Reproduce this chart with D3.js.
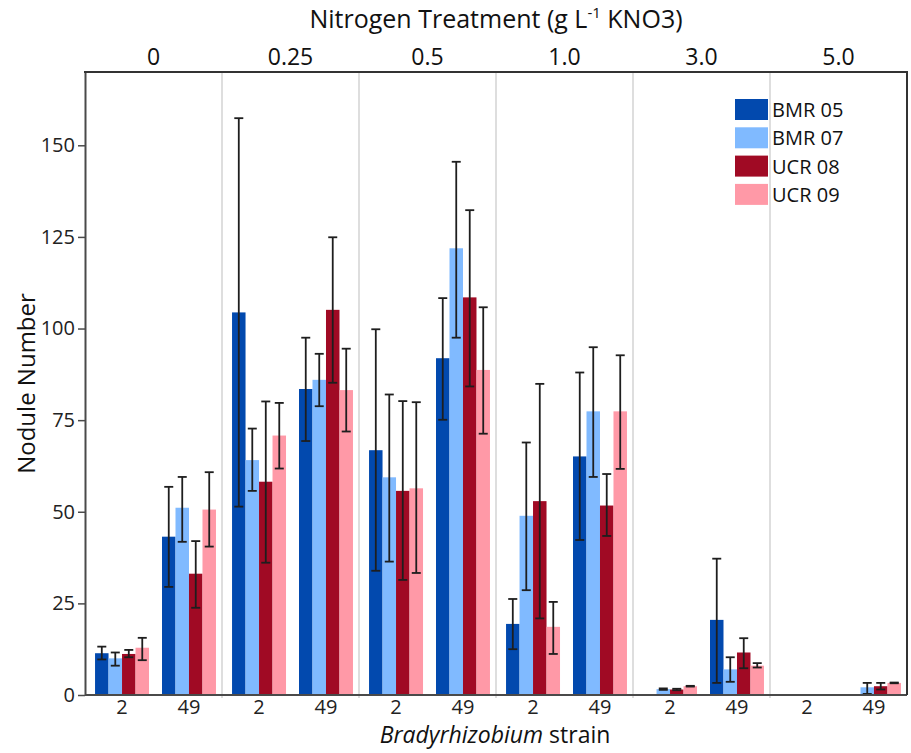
<!DOCTYPE html>
<html>
<head>
<meta charset="utf-8">
<script src="https://cdn.jsdelivr.net/npm/d3@7/dist/d3.min.js"></script>
<style>
  html, body { margin: 0; padding: 0; background: #fff; }
  svg { display: block; }
  text { font-family: "Open Sans", sans-serif; }
</style>
</head>
<body>
<svg id="chart" width="911" height="753"></svg>
<script>
// ---- data ----
const treatments = ["0", "0.25", "0.5", "1.0", "3.0", "5.0"];
const strains = ["2", "49"];
const series = ["BMR 05", "BMR 07", "UCR 08", "UCR 09"];
const yTicks = [0, 25, 50, 75, 100, 125, 150];

// values in order: (0,2),(0,49),(0.25,2),(0.25,49),(0.5,2),(0.5,49),(1.0,2),(1.0,49),(3.0,2),(3.0,49),(5.0,2),(5.0,49)
const bmr05 = [11.4, 43.2, 104.4, 83.5, 66.8, 91.9, 19.4, 65.1, 0, 20.5, 0, 0];
const bmr05Hi = [13.2, 56.8, 157.4, 97.5, 99.8, 108.3, 26.2, 88.0, 0, 37.2, 0, 0];
const bmr05Lo = [9.7, 29.5, 51.4, 69.3, 33.9, 75.1, 12.5, 42.3, 0, 3.3, 0, 0];

const bmr07 = [10.0, 51.1, 64.1, 86.0, 59.4, 121.9, 48.9, 77.4, 1.6, 7.0, 0, 2.1];
const bmr07Hi = [11.6, 59.5, 72.7, 93.1, 82.0, 145.5, 68.9, 94.9, 1.8, 10.3, 0, 3.3];
const bmr07Lo = [8.0, 41.8, 55.7, 78.8, 36.4, 97.5, 28.6, 59.5, 1.4, 3.6, 0, 0.3];

const ucr08 = [11.2, 33.1, 58.2, 105.1, 55.7, 108.5, 52.9, 51.7, 1.5, 11.6, 0, 2.4];
const ucr08Hi = [12.3, 42.0, 80.1, 124.9, 80.2, 132.3, 84.9, 60.3, 1.7, 15.5, 0, 3.3];
const ucr08Lo = [10.3, 23.8, 36.1, 85.2, 31.4, 84.2, 20.9, 43.4, 1.3, 7.3, 0, 1.5];

const ucr09 = [12.9, 50.6, 70.8, 83.2, 56.4, 88.7, 18.6, 77.4, 2.4, 8.0, 0, 3.3];
const ucr09Hi = [15.6, 60.8, 79.7, 94.5, 79.9, 105.8, 25.4, 92.7, 2.5, 8.7, 0, 3.4];
const ucr09Lo = [9.5, 40.5, 61.8, 71.9, 33.3, 71.3, 11.2, 61.7, 2.3, 7.5, 0, 3.2];

const seriesValues = [bmr05, bmr07, ucr08, ucr09];
const seriesHi = [bmr05Hi, bmr07Hi, ucr08Hi, ucr09Hi];
const seriesLo = [bmr05Lo, bmr07Lo, ucr08Lo, ucr09Lo];
const colors = ["#0249ae", "#80baff", "#a00a24", "#ff99a7"];

// ---- layout ----
const L = 85, R = 907, T = 72, B = 695;
const svg = d3.select("#chart");

const xPanel = d3.scaleBand().domain(treatments).range([L, R]).padding(0);
const xStrain = d3.scaleBand().domain(strains).range([0, xPanel.bandwidth()])
  .paddingInner(0.194).paddingOuter(0.12).align(0.625);
const xSeries = d3.scaleBand().domain(series).range([0, xStrain.bandwidth()]).padding(0);
const y = d3.scaleLinear().domain([0, 170]).range([B, T]);

// records
const records = [];
treatments.forEach((t, ti) => strains.forEach((s, si) => {
  const idx = ti * 2 + si;
  series.forEach((name, k) => {
    records.push({ t, s, name, k, v: seriesValues[k][idx], hi: seriesHi[k][idx], lo: seriesLo[k][idx] });
  });
}));

// panel separators
svg.append("g").selectAll("line").data(treatments.slice(1)).join("line")
  .attr("x1", d => xPanel(d)).attr("x2", d => xPanel(d))
  .attr("y1", T).attr("y2", B + 3)
  .attr("stroke", "#dedede").attr("stroke-width", 2);

// bars
const barX = d => xPanel(d.t) + xStrain(d.s) + xSeries(d.name);
svg.append("g").selectAll("rect").data(records.filter(d => d.v > 0)).join("rect")
  .attr("x", barX)
  .attr("y", d => y(d.v))
  .attr("width", xSeries.bandwidth())
  .attr("height", d => y(0) - y(d.v))
  .attr("fill", d => colors[d.k]);

// error bars
const eb = svg.append("g").attr("stroke", "#1e1e1e").attr("stroke-width", 1.8).attr("fill", "none");
const errs = records.filter(d => d.v > 0);
const cx = d => barX(d) + xSeries.bandwidth() / 2;
const cap = 4.5;
eb.selectAll("line.v").data(errs).join("line").attr("class", "v")
  .attr("x1", cx).attr("x2", cx).attr("y1", d => y(d.hi)).attr("y2", d => y(d.lo));
eb.selectAll("line.h").data(errs).join("line").attr("class", "h")
  .attr("x1", d => cx(d) - cap).attr("x2", d => cx(d) + cap).attr("y1", d => y(d.hi)).attr("y2", d => y(d.hi));
eb.selectAll("line.l").data(errs).join("line").attr("class", "l")
  .attr("x1", d => cx(d) - cap).attr("x2", d => cx(d) + cap).attr("y1", d => y(d.lo)).attr("y2", d => y(d.lo));

// y axis
const yAxis = svg.append("g").attr("transform", `translate(${L},0)`)
  .call(d3.axisLeft(y).tickValues(yTicks).tickSize(7).tickSizeOuter(0).tickPadding(3));
yAxis.select(".domain").attr("stroke", "#4a4a4a").attr("stroke-width", 2);
yAxis.selectAll(".tick line").attr("stroke", "#4a4a4a").attr("stroke-width", 1.5);
yAxis.selectAll(".tick text").attr("font-size", 20).attr("fill", "#222")
  .attr("font-family", "'Open Sans', sans-serif");

// frame: bottom, top, right
svg.append("line").attr("x1", L).attr("x2", R).attr("y1", B).attr("y2", B)
  .attr("stroke", "#4a4a4a").attr("stroke-width", 2);
svg.append("line").attr("x1", L - 1).attr("x2", R + 1).attr("y1", T).attr("y2", T)
  .attr("stroke", "#333").attr("stroke-width", 2);
svg.append("line").attr("x1", R).attr("x2", R).attr("y1", T).attr("y2", B)
  .attr("stroke", "#333").attr("stroke-width", 2);

// x strain labels
const strainLabels = [];
treatments.forEach(t => strains.forEach(s => strainLabels.push({ t, s })));
svg.append("g").selectAll("text").data(strainLabels).join("text")
  .attr("x", d => xPanel(d.t) + xStrain(d.s) + xStrain.bandwidth() / 2)
  .attr("y", B + 19)
  .attr("text-anchor", "middle").attr("font-size", 20).attr("fill", "#222")
  .text(d => d.s);

// panel labels (top)
svg.append("g").selectAll("text").data(treatments).join("text")
  .attr("x", d => xPanel(d) + xPanel.bandwidth() / 2)
  .attr("y", 65)
  .attr("text-anchor", "middle").attr("font-size", 23).attr("fill", "#111")
  .text(d => d);

// title
const title = svg.append("text").attr("x", 496).attr("y", 28)
  .attr("text-anchor", "middle").attr("font-size", 25).attr("fill", "#111");
title.append("tspan").text("Nitrogen Treatment (g L");
title.append("tspan").attr("font-size", 15).attr("dy", -10).text("-1");
title.append("tspan").attr("dy", 10).text(" KNO3)");

// x title
const xt = svg.append("text").attr("x", 495).attr("y", 743)
  .attr("text-anchor", "middle").attr("font-size", 23).attr("fill", "#111");
xt.append("tspan").attr("font-style", "italic").text("Bradyrhizobium");
xt.append("tspan").text(" strain");

// y title
svg.append("text").attr("transform", `translate(35,${(T + B) / 2}) rotate(-90)`)
  .attr("text-anchor", "middle").attr("font-size", 24).attr("fill", "#111")
  .text("Nodule Number");

// legend
const lg = svg.append("g").attr("transform", "translate(735,99)");
const li = lg.selectAll("g").data(series).join("g").attr("transform", (d, i) => `translate(0,${i * 28.3})`);
li.append("rect").attr("width", 33).attr("height", 21).attr("fill", (d, i) => colors[i]);
li.append("text").attr("x", 37).attr("y", 18).attr("font-size", 20).attr("fill", "#111").text(d => d);
</script>
</body>
</html>
